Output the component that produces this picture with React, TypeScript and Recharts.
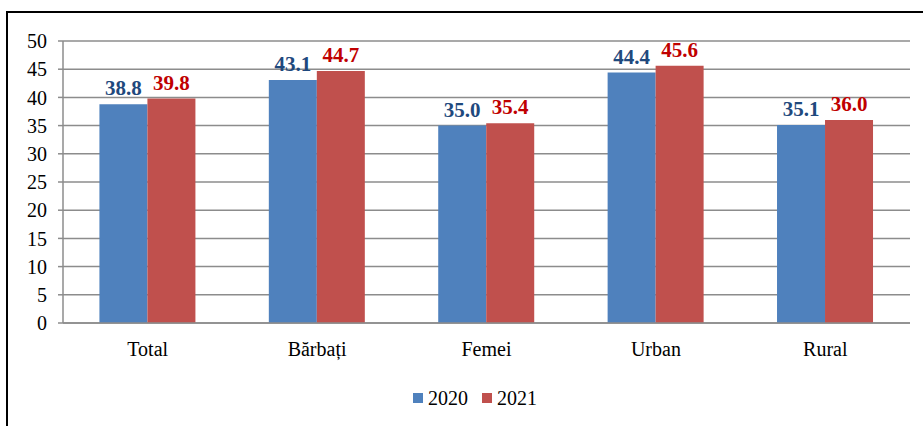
import { BarChart, Bar, XAxis, YAxis, CartesianGrid, LabelList } from "recharts"

const categories = ["Total", "Bărbați", "Femei", "Urban", "Rural"]
const values2020 = [38.8, 43.1, 35.0, 44.4, 35.1]
const values2021 = [39.8, 44.7, 35.4, 45.6, 36.0]
const yTicks = [0, 5, 10, 15, 20, 25, 30, 35, 40, 45, 50]
const boundaryTicks = [0, 1, 2, 3, 4, 5]

const FONT = "Liberation Serif"
const BLUE = "#4F81BD"
const RED = "#C0504D"

export default function App() {
  // rows for recharts built from the arrays above
  const data = categories.map((name, i) => ({
    name,
    y2020: values2020[i],
    y2021: values2021[i],
  }))

  return (
    <div style={{ position: "absolute", left: 0, top: 0, width: 923, height: 426, overflow: "hidden", background: "#fff" }}>
      <div
        style={{
          position: "absolute",
          left: 6,
          top: 11,
          width: 940,
          height: 440,
          borderLeft: "2px solid #000",
          borderTop: "2px solid #000",
        }}
      />
      <div style={{ position: "absolute", left: 0, top: 0, fontFamily: FONT }}>
        <BarChart
          width={923}
          height={426}
          data={data}
          margin={{ top: 41, right: 13, left: 0, bottom: 73 }}
          barGap={0}
          barCategoryGap="21.5%"
        >
          <CartesianGrid vertical={false} stroke="#8c8c8c" strokeWidth={1.5} />
          <XAxis
            xAxisId="edges"
            type="number"
            domain={[0, 5]}
            ticks={boundaryTicks}
            height={0}
            tick={false}
            tickSize={6}
            axisLine={false}
            tickLine={{ stroke: "#8c8c8c", strokeWidth: 1.5 }}
          />
          <XAxis
            dataKey="name"
            height={30}
            tickLine={false}
            tickSize={0}
            tickMargin={19}
            axisLine={{ stroke: "#8c8c8c", strokeWidth: 1.5 }}
            tick={{ fill: "#000", fontSize: 20, fontFamily: FONT }}
          />
          <YAxis
            width={63}
            domain={[0, 50]}
            ticks={yTicks}
            interval={0}
            tickSize={5}
            tickMargin={11}
            axisLine={{ stroke: "#8c8c8c", strokeWidth: 1.5 }}
            tickLine={{ stroke: "#8c8c8c", strokeWidth: 1.5 }}
            tick={{ fill: "#000", fontSize: 20, fontFamily: FONT }}
          />
          <Bar dataKey="y2020" fill={BLUE} isAnimationActive={false}>
            <LabelList
              dataKey="y2020"
              position="top"
              offset={9}
              formatter={(v: number) => v.toFixed(1)}
              style={{ fill: "#1F497D", fontSize: 21, fontWeight: "bold", fontFamily: FONT }}
            />
          </Bar>
          <Bar dataKey="y2021" fill={RED} isAnimationActive={false}>
            <LabelList
              dataKey="y2021"
              position="top"
              offset={9}
              formatter={(v: number) => v.toFixed(1)}
              style={{ fill: "#C00000", fontSize: 21, fontWeight: "bold", fontFamily: FONT }}
            />
          </Bar>
        </BarChart>
      </div>
      <div
        style={{
          position: "absolute",
          left: 413,
          top: 387,
          display: "flex",
          alignItems: "center",
          fontFamily: FONT,
          fontSize: 20,
          lineHeight: "22px",
          color: "#000",
        }}
      >
        <span style={{ width: 10, height: 10, background: BLUE, display: "inline-block", marginRight: 5 }} />
        <span style={{ marginRight: 14 }}>2020</span>
        <span style={{ width: 10, height: 10, background: RED, display: "inline-block", marginRight: 5 }} />
        <span>2021</span>
      </div>
    </div>
  )
}
